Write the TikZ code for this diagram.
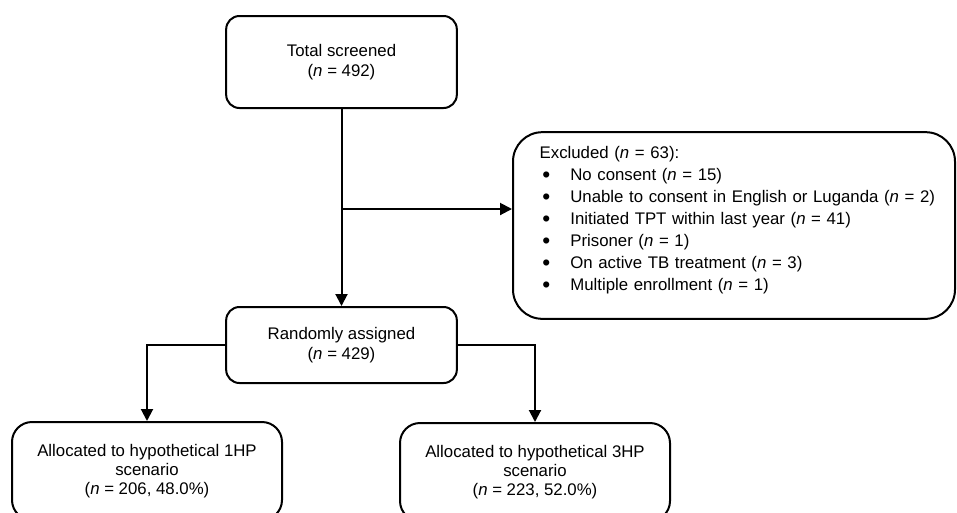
\documentclass[tikz,border=0pt]{standalone}
\usepackage{fontspec}
\setmainfont{Liberation Sans}
\usetikzlibrary{arrows.meta,positioning}
\newcommand{\nv}{\textit{n}}
\newcommand{\bul}{\makebox[23pt][l]{\hspace{2pt}\raisebox{-1.2pt}{\fontsize{17}{16.5}\selectfont\textbullet}}}

\begin{document}
\begin{tikzpicture}[x=0.75pt,y=-0.75pt,
                every node/.append style = {font=\fontsize{12.6}{15}\selectfont},
                box/.style = {draw, line width=1.5pt, rounded corners=10pt, align=center, inner sep=0pt},
                arr/.style = {line width=1.5pt, -{Triangle[length=9pt,width=9pt]}}]
            \clip (0,0) rectangle (957,512);
            \node[box, minimum width=173pt, minimum height=69pt] (total) at (341.5,62) {Total screened\\(\nv{} = 492)};
            \node[box, minimum width=173pt, minimum height=57pt] (rand) at (341.5,345) {Randomly assigned\\(\nv{} = 429)};
            \node[box, rounded corners=22pt, minimum height=140pt, text width=291.5pt, inner xsep=20pt, align=left,
                  font=\fontsize{12.6}{16.5}\selectfont] (excl) at (734,225.5) {Excluded (\nv{} = 63):\\
                \bul No consent (\nv{} = 15)\\
                \bul \mbox{Unable to consent in English or Luganda (\nv{} = 2)}\\
                \bul Initiated TPT within last year (\nv{} = 41)\\
                \bul Prisoner (\nv{} = 1)\\
                \bul On active TB treatment (\nv{} = 3)\\
                \bul Multiple enrollment (\nv{} = 1)\rule[-10pt]{0pt}{10pt}};
            \node[box, rounded corners=15pt, minimum width=202.5pt, minimum height=73.5pt,
                  font=\fontsize{12.6}{14.5}\selectfont] (alloc1) at (147,471) {Allocated to hypothetical 1HP\\scenario\\(\nv{} = 206, 48.0\%)};
            \node[box, rounded corners=15pt, minimum width=202.5pt, minimum height=73.5pt,
                  font=\fontsize{12.6}{14.5}\selectfont] (alloc3) at (535,472) {Allocated to hypothetical 3HP\\scenario\\(\nv{} = 223, 52.0\%)};
            % connectors
            \coordinate (split) at (341.5,209);
            \draw[arr] (total) -- (rand);
            \draw[arr] (split) -- (split -| excl.west);
            \draw[arr] (rand.west) -| (alloc1.north);
            \draw[arr] (rand.east) -| (alloc3.north);
            \end{tikzpicture}
\end{document}
